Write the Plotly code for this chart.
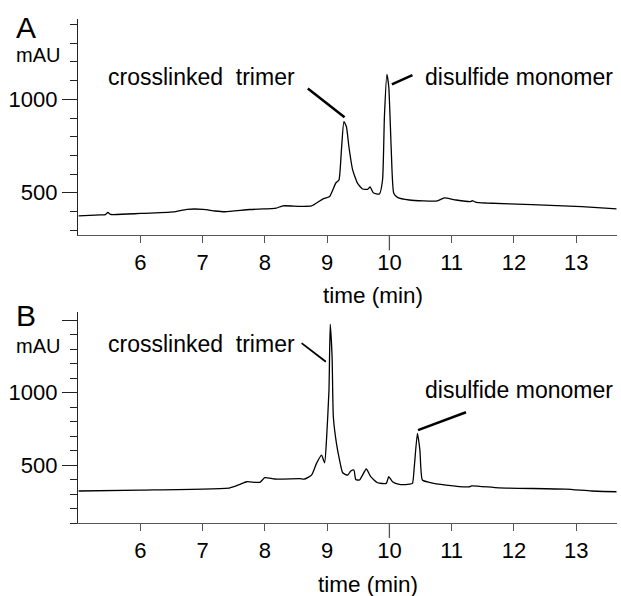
import plotly.graph_objects as go

# Chromatogram A: retention time (min) and absorbance (mAU)
time_a = [5.01, 5.36, 5.44, 5.48, 5.52, 6.00, 6.53, 6.75, 7.01, 7.20, 7.36, 7.76,
          8.11, 8.18, 8.29, 8.56, 8.75, 8.93, 9.04, 9.14, 9.19, 9.23, 9.27, 9.31,
          9.35, 9.41, 9.49, 9.57, 9.65, 9.69, 9.74, 9.84, 9.89, 9.92, 9.96, 9.99,
          10.03, 10.07, 10.13, 10.32, 10.77, 10.88, 11.07, 11.31, 11.33, 11.38,
          11.55, 12.29, 13.09, 13.65]
signal_a = [376, 381, 383, 394, 384, 389, 397, 411, 411, 402, 398, 410,
            415, 417, 430, 427, 429, 466, 480, 552, 568, 729, 880, 853,
            746, 622, 550, 520, 518, 531, 500, 493, 568, 907, 1134, 1067,
            729, 497, 475, 461, 456, 472, 461, 453, 458, 450,
            445, 436, 425, 413]

# Chromatogram B
time_b = [5.01, 6.00, 7.44, 7.60, 7.71, 7.92, 8.00, 8.16, 8.56, 8.64, 8.75, 8.83,
          8.91, 8.96, 8.99, 9.03, 9.05, 9.08, 9.10, 9.15, 9.20, 9.25, 9.33, 9.38,
          9.43, 9.46, 9.52, 9.63, 9.70, 9.81, 9.95, 9.99, 10.05, 10.16, 10.32,
          10.37, 10.40, 10.45, 10.49, 10.53, 10.64, 10.91, 11.28, 11.32, 11.76,
          12.83, 13.25, 13.65]
signal_b = [321, 327, 343, 367, 385, 381, 413, 404, 406, 404, 431, 512,
            569, 516, 673, 1019, 1473, 1249, 834, 650, 535, 447, 431, 459,
            466, 401, 397, 473, 420, 378, 374, 420, 385, 367, 369,
            374, 489, 719, 604, 397, 381, 362, 350, 357, 343,
            334, 321, 316]

x_ticks = [6, 7, 8, 9, 10, 11, 12, 13]
y_ticks_a = [500, 1000]
y_labels_a = ["500", "1000"]
y_ticks_b = [500, 1000, 1500]
y_labels_b = ["500", "1000", ""]

FONT = "Liberation Sans, Arial, Helvetica, sans-serif"
W, H = 621, 596


def px_x(p):
    return p / W


def px_y(p):
    return 1 - p / H


fig = go.Figure()
fig.add_trace(go.Scatter(x=time_a, y=signal_a, mode="lines",
                         line=dict(color="black", width=1.3, shape="spline",
                                   smoothing=0.5),
                         xaxis="x", yaxis="y", showlegend=False))
fig.add_trace(go.Scatter(x=time_b, y=signal_b, mode="lines",
                         line=dict(color="black", width=1.3, shape="spline",
                                   smoothing=0.5),
                         xaxis="x2", yaxis="y2", showlegend=False))

x_dom = [px_x(78), px_x(616.7)]
xcommon = dict(domain=x_dom, range=[5.0, 13.65], showline=True,
               linecolor="#555", linewidth=1.3, ticks="outside", ticklen=7,
               tickwidth=1.3, tickcolor="#555", tickvals=x_ticks,
               tickfont=dict(family=FONT, size=22, color="black"),
               showgrid=False, zeroline=False, fixedrange=True)
ycommon = dict(showline=True, linecolor="#222", linewidth=1.3,
               ticks="outside", ticklen=15, tickwidth=1.3, tickcolor="#222",
               tickfont=dict(family=FONT, size=22, color="black"),
               showgrid=False, zeroline=False,
               minor=dict(ticks="outside", ticklen=7, dtick=100, tick0=0,
                          tickwidth=1.3, tickcolor="#222", showgrid=False))

fig.update_layout(
    width=W, height=H, margin=dict(l=0, r=0, t=0, b=0),
    paper_bgcolor="white", plot_bgcolor="white",
    font=dict(family=FONT, color="black"),
    xaxis=dict(anchor="y", **xcommon),
    xaxis2=dict(anchor="y2", **xcommon),
    yaxis=dict(anchor="x", domain=[px_y(235.3), px_y(19)], range=[272, 1430],
               tickvals=y_ticks_a, ticktext=y_labels_a, **ycommon),
    yaxis2=dict(anchor="x2", domain=[px_y(523), px_y(311.7)], range=[100, 1560],
                tickvals=y_ticks_b, ticktext=y_labels_b, **ycommon),
)

# longer tick mark at 10 min on both time axes
for xr, yr in (("x", "y domain"), ("x2", "y2 domain")):
    fig.add_shape(type="line", xref=xr, yref=yr, x0=10, x1=10,
                  ysizemode="pixel", yanchor=0, y0=0, y1=-15,
                  line=dict(color="#555", width=1.3))

# peak callout leaders
leaders = [
    ("x", "y", 8.69, 1058, 9.28, 904, 2.5),
    ("x", "y", 10.04, 1080, 10.37, 1130, 2.5),
    ("x2", "y2", 8.59, 1343, 8.98, 1214, 1.8),
    ("x2", "y2", 10.46, 742, 11.23, 865, 2.5),
]
for xr, yr, x0, y0, x1, y1, w in leaders:
    fig.add_shape(type="line", xref=xr, yref=yr, x0=x0, y0=y0, x1=x1, y1=y1,
                  line=dict(color="black", width=w))

peak_labels = [
    ("x", "y", 5.456, 1119, "crosslinked\u00a0 trimer"),
    ("x", "y", 10.544, 1119, "disulfide monomer"),
    ("x2", "y2", 5.456, 1337, "crosslinked\u00a0 trimer"),
    ("x2", "y2", 10.544, 1019, "disulfide monomer"),
]
for xr, yr, x, y, txt in peak_labels:
    fig.add_annotation(xref=xr, yref=yr, x=x, y=y, text=txt, showarrow=False,
                       xanchor="left", yanchor="middle",
                       font=dict(family=FONT, size=23, color="black"))

# panel letters, unit labels and axis titles
paper_text = [
    (14, 27, "A", 30, "left"),
    (14, 315, "B", 30, "left"),
    (14, 55.5, "mAU", 20, "left"),
    (14, 345.5, "mAU", 20, "left"),
    (373, 296, "time (min)", 22.5, "center"),
    (368, 584, "time (min)", 22.5, "center"),
]
for px, py, txt, size, anchor in paper_text:
    fig.add_annotation(xref="paper", yref="paper", x=px_x(px), y=px_y(py),
                       text=txt, showarrow=False, xanchor=anchor,
                       yanchor="middle",
                       font=dict(family=FONT, size=size, color="black"))

fig.write_html("out.html")
